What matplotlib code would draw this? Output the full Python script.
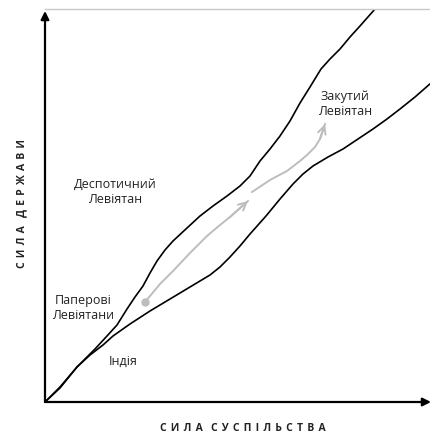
import matplotlib.pyplot as plt
import numpy as np

# curve points, measured from the origin of the two axes (pixels of the picture)
upper_x = [0, 15, 32, 50, 62, 72, 82, 90, 98, 105, 112, 120, 128, 142, 155, 168, 182,
           195, 205, 215, 225, 235, 245, 255, 265, 276, 285, 295, 305, 315, 330]
upper_y = [0, 14, 35, 53, 66, 77, 93, 105, 116, 129, 141, 152, 161, 174, 186, 196, 206,
           216, 226, 241, 253, 266, 281, 299, 315, 333, 343, 353, 365, 376, 393]

lower_x = [0, 15, 32, 45, 58, 68, 85, 105, 125, 145, 165, 175, 185, 195, 205, 213, 221,
           235, 248, 258, 268, 283, 298, 313, 328, 342, 355, 370, 386]
lower_y = [0, 15, 35, 47, 57, 66, 78, 91, 103, 115, 127, 135, 145, 156, 168, 177, 186,
           203, 218, 228, 236, 245, 253, 263, 273, 283, 293, 305, 319]

path1_x = [100, 115, 128, 145, 162, 175, 185, 203]
path1_y = [100, 118, 131, 149, 166, 177, 185, 201]
path2_x = [207, 225, 242, 255, 262, 270, 275, 280]
path2_y = [210, 222, 231, 241, 247, 255, 263, 278]

labels = ['Деспотичний\nЛевіятан', 'Закутий\nЛевіятан', 'Паперові\nЛевіятани', 'Індія']
label_x = [70, 300, 38, 78]
label_y = [211, 299, 95, 42]

W, H = 431, 435
fig = plt.figure(figsize=(W / 100, H / 100), dpi=100)
ax = fig.add_axes([45 / W, (H - 403) / H, 386 / W, 393 / H])
ax.set_xlim(0, 386)
ax.set_ylim(0, 393)
ax.set_xticks([])
ax.set_yticks([])
for s in ['left', 'bottom', 'right']:
    ax.spines[s].set_visible(False)
ax.spines['top'].set_color('#c8c8c8')
ax.spines['top'].set_linewidth(1.0)

ax.plot(upper_x, upper_y, color='black', lw=1.2, solid_capstyle='round')
ax.plot(lower_x, lower_y, color='black', lw=1.2, solid_capstyle='round')

grey = '#bdbdbd'
for px, py in [(path1_x, path1_y), (path2_x, path2_y)]:
    ax.plot(px, py, color=grey, lw=1.4)
    ax.annotate('', xy=(px[-1], py[-1]), xytext=(px[-2], py[-2]),
                arrowprops=dict(arrowstyle='->', color=grey, lw=1.4, mutation_scale=14,
                                shrinkA=0, shrinkB=0))
ax.plot(path1_x[0], path1_y[0], 'o', color=grey, ms=5)

# axes with arrows
ax.annotate('', xy=(0, 391), xytext=(0, 0), annotation_clip=False,
            arrowprops=dict(arrowstyle='-|>', color='black', lw=1.6, mutation_scale=12,
                            shrinkA=0, shrinkB=0))
ax.annotate('', xy=(386, 0), xytext=(0, 0), annotation_clip=False,
            arrowprops=dict(arrowstyle='-|>', color='black', lw=1.6, mutation_scale=12,
                            shrinkA=0, shrinkB=0))

for t, x, y in zip(labels, label_x, label_y):
    ax.text(x, y, t, ha='center', va='center', fontsize=9, family='Open Sans',
            color='#222222', linespacing=1.2)

sp = '\u2009\u2009'
xlab = sp.join('СИЛА') + '   ' + sp.join('СУСПІЛЬСТВА')
ylab = sp.join('СИЛА') + '   ' + sp.join('ДЕРЖАВИ')
fig.text(243 / W, 1 - 429 / H, xlab, ha='center', va='center', fontsize=7.5,
         fontweight='bold', family='Open Sans', color='#222222')
fig.text(22 / W, 1 - 204 / H, ylab, ha='center', va='center', fontsize=7.5,
         fontweight='bold', family='Open Sans', color='#222222', rotation=90)

fig.savefig('out.png', dpi=100)
